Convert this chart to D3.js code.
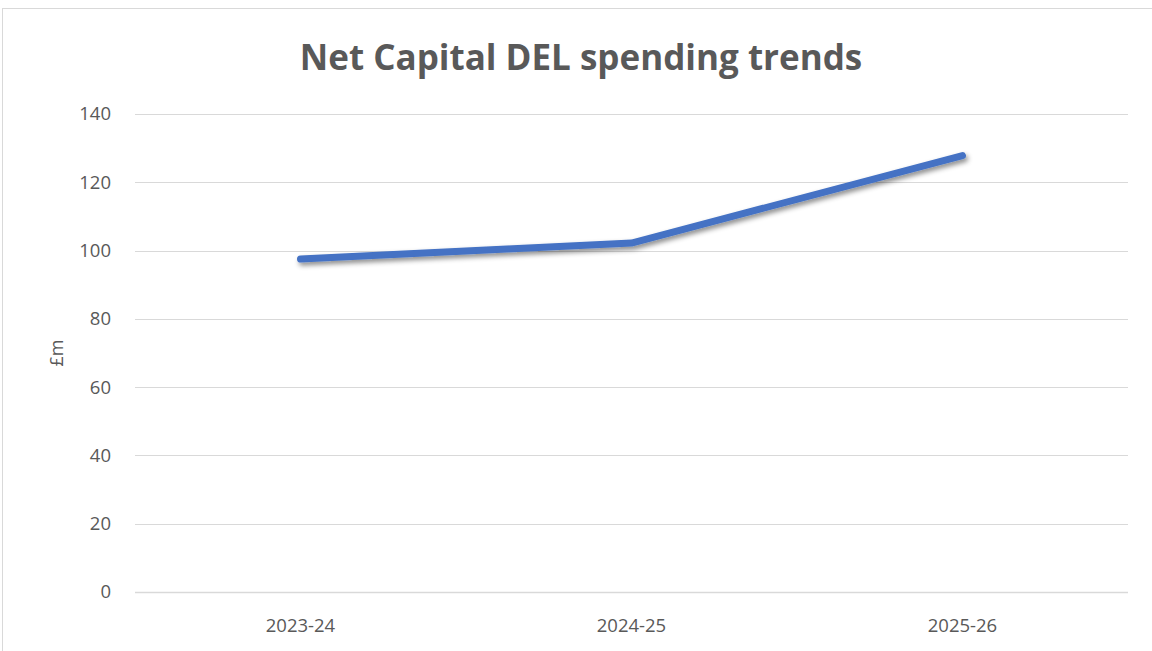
<!DOCTYPE html>
<html>
<head>
<meta charset="utf-8">
<script src="https://cdn.jsdelivr.net/npm/d3@7"></script>
<style>
  body { margin: 0; background: #fff; }
  text { font-family: "Open Sans", "Liberation Sans", sans-serif; fill: #595959; }
</style>
</head>
<body>
<svg id="chart" width="1152" height="651"></svg>
<script>
var years = ["2023-24", "2024-25", "2025-26"]
var spending = [97.5, 102.2, 127.8]
var yTicks = [0, 20, 40, 60, 80, 100, 120, 140]

var svg = d3.select("#chart")

// chart frame
svg.append("rect")
    .attr("x", 2.5).attr("y", 8.5)
    .attr("width", 1160).attr("height", 660)
    .attr("fill", "#fff")
    .attr("stroke", "#d9d9d9")

var defs = svg.append("defs")
var shadow = defs.append("filter").attr("id", "shadow")
    .attr("x", "-10%").attr("y", "-50%").attr("width", "120%").attr("height", "200%")
shadow.append("feDropShadow")
    .attr("dx", 2).attr("dy", 3).attr("stdDeviation", 2.5)
    .attr("flood-color", "#000").attr("flood-opacity", 0.45)

var plotLeft = 135, plotRight = 1128, plotTop = 114, plotBottom = 592

var x = d3.scaleBand().domain(years).range([plotLeft, plotRight])
var y = d3.scaleLinear().domain([0, 140]).range([plotBottom, plotTop])

// gridlines
svg.append("g").selectAll("line")
    .data(yTicks)
    .enter().append("line")
    .attr("x1", plotLeft).attr("x2", plotRight)
    .attr("y1", d => Math.round(y(d)) + 0.5)
    .attr("y2", d => Math.round(y(d)) + 0.5)
    .attr("stroke", "#d9d9d9")
    .attr("stroke-width", d => d == 0 ? 1.5 : 1)

// y tick labels
svg.append("g").selectAll("text")
    .data(yTicks)
    .enter().append("text")
    .attr("x", 111)
    .attr("y", d => y(d))
    .attr("dy", "0.35em")
    .attr("text-anchor", "end")
    .style("font-size", "18.5px")
    .text(d => d)

// x tick labels
svg.append("g").selectAll("text")
    .data(years)
    .enter().append("text")
    .attr("x", d => x(d) + x.bandwidth() / 2)
    .attr("y", 632)
    .attr("text-anchor", "middle")
    .style("font-size", "18.5px")
    .text(d => d)

// axis title
svg.append("text")
    .attr("transform", "translate(63," + ((plotTop + plotBottom) / 2) + ") rotate(-90)")
    .attr("text-anchor", "middle")
    .style("font-size", "18px")
    .text("£m")

// title
svg.append("text")
    .attr("x", 581)
    .attr("y", 70)
    .attr("text-anchor", "middle")
    .style("font-size", "35px")
    .style("font-weight", "bold")
    .text("Net Capital DEL spending trends")

// line
var line = d3.line()
    .x((d, i) => x(years[i]) + x.bandwidth() / 2)
    .y(d => y(d))

svg.append("path")
    .datum(spending)
    .attr("d", line)
    .attr("fill", "none")
    .attr("stroke", "#4472c4")
    .attr("stroke-width", 7)
    .attr("stroke-linecap", "round")
    .attr("stroke-linejoin", "round")
    .attr("filter", "url(#shadow)")
</script>
</body>
</html>
